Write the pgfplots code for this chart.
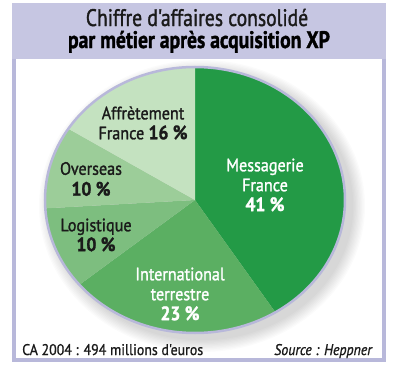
\documentclass[border=0pt]{standalone}
\usepackage{fontspec}
\setmainfont{PT Sans}
\newfontfamily\titlefont[FakeStretch=0.82,FakeBold=1.4]{PT Sans}
\newfontfamily\labfont[FakeStretch=0.9,FakeBold=1.4]{PT Sans}
\newfontfamily\footfont[FakeStretch=0.9,FakeBold=0.9]{PT Sans}
\usepackage{pgfplots}
\pgfplotsset{compat=1.18}
\definecolor{cA}{HTML}{239A46}
\definecolor{cB}{HTML}{5BAF62}
\definecolor{cC}{HTML}{7DBE7F}
\definecolor{cD}{HTML}{9CCD99}
\definecolor{cE}{HTML}{C4E2C0}
\definecolor{band}{HTML}{C6C6E2}
\definecolor{frame}{HTML}{B8B8DA}
\definecolor{txt}{HTML}{1A1A1A}
\newcommand\pc[1]{{\fontsize{19.5}{20}\selectfont\bfseries #1}}
% slice: #1 cumulative start %, #2 share %, #3 colour
\newcommand\slice[3]{%
  \fill[#3] (axis cs:195,186) -- ++({90-3.6*#1}:150bp and 133bp)
    arc[start angle={90-3.6*#1}, end angle={90-3.6*(#1+#2)}, x radius=150bp, y radius=133bp] -- cycle;}
\newcommand\shad[1]{\fill[black,opacity=0.014] (axis cs:202,180) ellipse [x radius={(150+1.3*#1)*1bp}, y radius={(133+1.3*#1)*1bp}];}
\begin{document}
\begin{tikzpicture}
\begin{axis}[x=1bp,y=1bp,xmin=0,xmax=400,ymin=0,ymax=386,hide axis,clip=false]
\fill[white] (axis cs:0,0) rectangle (axis cs:400,386);
\fill[frame] (axis cs:12,24) rectangle (axis cs:386,383);
\fill[band] (axis cs:12,327) rectangle (axis cs:386,383);
\fill[white] (axis cs:16,28) rectangle (axis cs:382,327);
% soft shadow
\shad{1}\shad{2}\shad{3}\shad{4}\shad{5}\shad{6}\shad{7}\shad{8}\shad{9}\shad{10}
% pie data (percent)
\slice{0}{41}{cA}
\slice{41}{23}{cB}
\slice{64}{10}{cC}
\slice{74}{10}{cD}
\slice{84}{16}{cE}
\draw[frame,line width=2.5bp] (axis cs:195,186) ellipse [x radius=150bp, y radius=133bp];
% labels
\node[font=\fontsize{18}{20}\selectfont\labfont,white,align=center] at (axis cs:265,201) {Messagerie\\France\\\pc{41 \%}};
\node[font=\fontsize{18}{20}\selectfont\labfont,white,align=center] at (axis cs:180,92) {International\\terrestre\\\pc{23 \%}};
\node[font=\fontsize{18}{20}\selectfont\labfont,txt,align=center] at (axis cs:96,151) {Logistique\\\pc{10 \%}};
\node[font=\fontsize{18}{21}\selectfont\labfont,txt,align=center] at (axis cs:91,207) {Overseas\\\pc{10 \%}};
\node[font=\fontsize{18}{20}\selectfont\labfont,txt,align=center] at (axis cs:143,263) {Affrètement\\France \pc{16 \%}};
% title
\node[anchor=base,inner sep=0pt,font=\fontsize{24}{28}\selectfont\titlefont,txt] at (axis cs:197,360) {Chiffre d'affaires consolidé};
\node[anchor=base,inner sep=0pt,font=\fontsize{24}{28}\selectfont\titlefont\bfseries,black] at (axis cs:199,338) {par métier après acquisition XP};
% footer
\node[anchor=base west,font=\fontsize{15.5}{18}\selectfont\footfont,txt,inner sep=0pt] at (axis cs:22,31) {CA 2004 : 494 millions d'euros};
\node[anchor=base east,font=\fontsize{15.5}{18}\selectfont\footfont\itshape,txt,inner sep=0pt] at (axis cs:372,31) {Source : Heppner};
\end{axis}
\end{tikzpicture}
\end{document}
